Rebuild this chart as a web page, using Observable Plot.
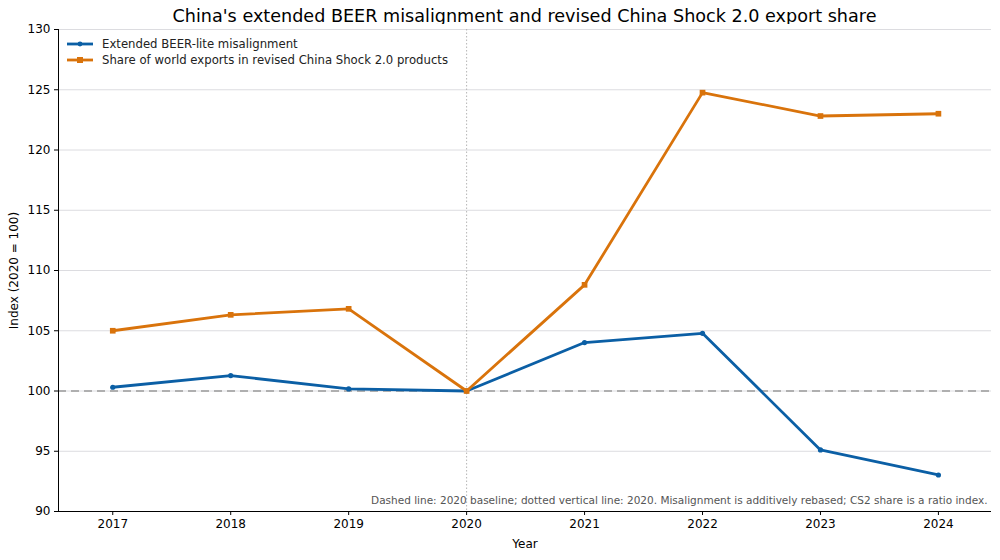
<!DOCTYPE html>
<html>
<head>
<meta charset="utf-8">
<script src="https://cdn.jsdelivr.net/npm/d3@7"></script>
<script src="https://cdn.jsdelivr.net/npm/@observablehq/plot@0.6"></script>
<style>
  html, body { margin: 0; padding: 0; background: #fff; }
  body { width: 1000px; height: 560px; overflow: hidden; font-family: "DejaVu Sans", sans-serif; }
  #title { height: 24px; box-sizing: border-box; padding: 6px 9px 0 58px; text-align: center;
           font-size: 17.6px; line-height: 20px; color: #000; white-space: nowrap; overflow: visible; }
  #wrap { position: relative; }
  #legend { position: absolute; left: 67px; top: 12px; font-size: 11.7px; color: #222; }
  #legend div { display: flex; align-items: center; height: 16px; }
  #legend svg { margin-right: 9px; }
</style>
</head>
<body>
<div id="title">China's extended BEER misalignment and revised China Shock 2.0 export share</div>
<div id="wrap">
  <div id="legend"></div>
</div>
<script>
const years = [2017, 2018, 2019, 2020, 2021, 2022, 2023, 2024];
const misalignment = [100.31, 101.28, 100.17, 100.0, 104.02, 104.79, 95.11, 93.03];
const cs2Share = [105.0, 106.32, 106.82, 100.0, 108.81, 124.76, 122.82, 123.01];
const yTicks = [90, 95, 100, 105, 110, 115, 120, 125, 130];
const seriesNames = ["Extended BEER-lite misalignment", "Share of world exports in revised China Shock 2.0 products"];
const colors = ["#0b5fa5", "#d9730b"];
const note = "Dashed line: 2020 baseline; dotted vertical line: 2020. Misalignment is additively rebased; CS2 share is a ratio index.";

const rowsA = years.map((y, i) => ({year: y, value: misalignment[i]}));
const rowsB = years.map((y, i) => ({year: y, value: cs2Share[i]}));
const xDomain = [2016.54, 2024.45];
const yDomain = [90, 130];

const chart = Plot.plot({
  width: 1000,
  height: 536,
  marginTop: 5,
  marginLeft: 58,
  marginRight: 9,
  marginBottom: 49,
  style: {fontFamily: "DejaVu Sans, sans-serif", fontSize: "12px", color: "#000", background: "#fff", overflow: "visible"},
  x: {domain: xDomain},
  y: {domain: yDomain},
  marks: [
    Plot.gridY(yTicks, {stroke: "#dcdce0", strokeOpacity: 1, strokeWidth: 1}),
    Plot.ruleY([100], {stroke: "#9a9a9a", strokeWidth: 1.3, strokeDasharray: "8,5"}),
    Plot.ruleX([2020], {stroke: "#b5b5b5", strokeWidth: 1, strokeDasharray: "1.5,2"}),
    Plot.line(rowsA, {x: "year", y: "value", stroke: colors[0], strokeWidth: 2.8}),
    Plot.dot(rowsA, {x: "year", y: "value", fill: colors[0], r: 2.6, symbol: "circle"}),
    Plot.line(rowsB, {x: "year", y: "value", stroke: colors[1], strokeWidth: 2.8}),
    Plot.dot(rowsB, {x: "year", y: "value", fill: colors[1], r: 3.2, symbol: "square"}),
    Plot.text([note], {frameAnchor: "bottom-right", dx: -4, dy: -8, text: d => d, fill: "#555", fontSize: 10.5, textAnchor: "end"}),
    Plot.ruleX([xDomain[0]], {stroke: "#000", strokeWidth: 1}),
    Plot.ruleY([yDomain[0]], {stroke: "#000", strokeWidth: 1}),
    Plot.axisX(years, {tickFormat: d => String(d), tickSize: 4, tickPadding: 4, fontSize: 12,
      label: "Year", labelAnchor: "center", labelArrow: "none", labelOffset: 36}),
    Plot.axisY(yTicks, {tickSize: 4, tickPadding: 4, fontSize: 12,
      label: "Index (2020 = 100)", labelAnchor: "center", labelArrow: "none", labelOffset: 49})
  ]
});
document.getElementById("wrap").prepend(chart);

const legend = document.getElementById("legend");
seriesNames.forEach((name, i) => {
  const row = document.createElement("div");
  const marker = i === 0
    ? `<circle cx="13" cy="5" r="2.4" fill="${colors[i]}"/>`
    : `<rect x="10" y="2" width="6" height="6" fill="${colors[i]}"/>`;
  row.innerHTML = `<svg width="26" height="10"><line x1="0" x2="26" y1="5" y2="5" stroke="${colors[i]}" stroke-width="2.8"/>${marker}</svg><span>${name}</span>`;
  legend.appendChild(row);
});
</script>
</body>
</html>
